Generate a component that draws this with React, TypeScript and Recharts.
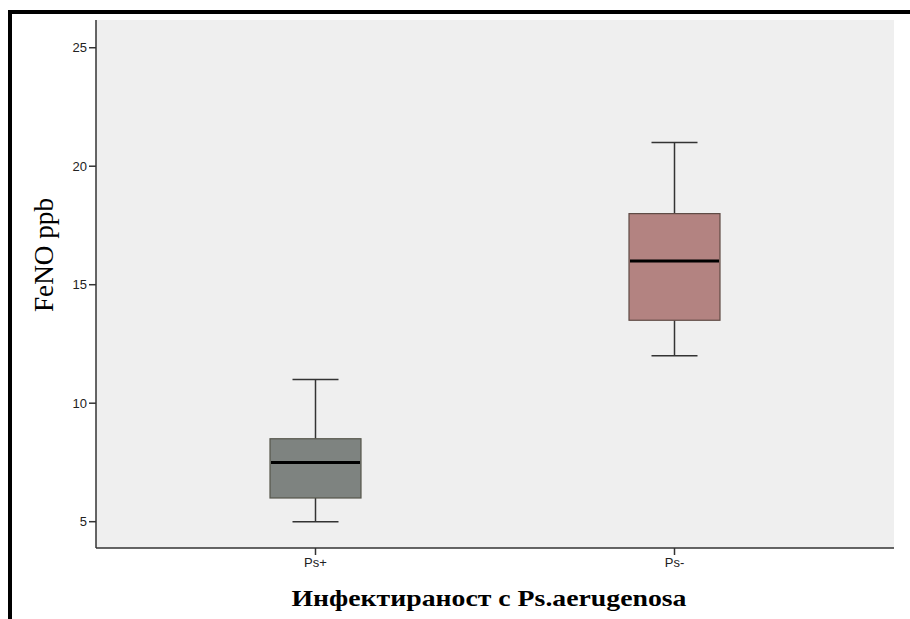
import React from "react";
import { ComposedChart, Bar, XAxis, YAxis, CartesianGrid } from "recharts";

// group values (FeNO, ppb)
const categories = ["Ps+", "Ps-"];
const minValues = [5, 12];
const q1Values = [6, 13.5];
const medianValues = [7.5, 16];
const q3Values = [8.5, 18];
const maxValues = [11, 21];
const yTicks = [5, 10, 15, 20, 25];

const BOX_FILLS = ["#7e8380", "#b38381"];
const BOX_STROKES = ["#55554a", "#5e4a44"];

const data = categories.map((name, i) => ({
  name,
  box: [q1Values[i], q3Values[i]],
  min: minValues[i],
  median: medianValues[i],
  max: maxValues[i],
  idx: i,
}));

const BoxShape = (props: any) => {
  const { x, y, width, height, payload } = props;
  const [lo, hi] = payload.box;
  const ppu = height / (hi - lo);
  const yOf = (v: number) => y + (hi - v) * ppu;
  const cx = x + width / 2;
  const cap = 23;
  const i = payload.idx;
  return (
    <g>
      <line x1={cx} x2={cx} y1={yOf(payload.max)} y2={y} stroke="#333" strokeWidth={1.5} />
      <line x1={cx} x2={cx} y1={y + height} y2={yOf(payload.min)} stroke="#333" strokeWidth={1.5} />
      <line x1={cx - cap} x2={cx + cap} y1={yOf(payload.max)} y2={yOf(payload.max)} stroke="#333" strokeWidth={1.5} />
      <line x1={cx - cap} x2={cx + cap} y1={yOf(payload.min)} y2={yOf(payload.min)} stroke="#333" strokeWidth={1.5} />
      <rect x={x} y={y} width={width} height={height} fill={BOX_FILLS[i]} stroke={BOX_STROKES[i]} strokeWidth={1.2} />
      <line x1={x + 1} x2={x + width - 1} y1={yOf(payload.median)} y2={yOf(payload.median)} stroke="#000" strokeWidth={3} />
    </g>
  );
};

const tickStyle = { fontSize: 13, fill: "#222", fontFamily: "Arial, 'Liberation Sans', sans-serif" };

export default function App() {
  return (
    <div style={{ position: "absolute", left: 0, top: 0, width: 910, height: 619, background: "#fff" }}>
      <div
        style={{
          position: "absolute",
          left: 8,
          top: 10,
          right: 0,
          bottom: 0,
          borderTop: "4px solid #000",
          borderLeft: "4px solid #000",
        }}
      />
      <ComposedChart
        width={910}
        height={619}
        data={data}
        margin={{ top: 20, right: 16, bottom: 0, left: 0 }}
        style={{ position: "absolute", left: 0, top: 0 }}
      >
        <CartesianGrid fill="#efefef" horizontal={false} vertical={false} />
        <XAxis
          dataKey="name"
          height={71}
          padding={{ left: 40, right: 40 }}
          tickSize={7}
          tickMargin={3}
          axisLine={{ stroke: "#333", strokeWidth: 1.5 }}
          tickLine={{ stroke: "#333", strokeWidth: 1.5 }}
          tick={tickStyle}
          label={{
            content: () => (
              <text
                x={489}
                y={606}
                textAnchor="middle"
                textLength={395}
                lengthAdjust="spacingAndGlyphs"
                style={{ fontSize: 23, fontWeight: "bold", fontFamily: "'Times New Roman', 'Liberation Serif', serif", fill: "#000" }}
              >
                Инфектираност с Ps.aerugenosa
              </text>
            ),
          }}
        />
        <XAxis
          xAxisId="top"
          dataKey="name"
          orientation="top"
          height={0}
          tick={false}
          tickLine={false}
          axisLine={{ stroke: "#777", strokeWidth: 2 }}
        />
        <YAxis
          type="number"
          domain={[3.89, 26.17]}
          ticks={yTicks}
          allowDataOverflow
          width={96}
          tickSize={7}
          tickMargin={2}
          axisLine={{ stroke: "#333", strokeWidth: 1.5 }}
          tickLine={{ stroke: "#333", strokeWidth: 1.5 }}
          tick={tickStyle}
          label={{
            content: () => (
              <text
                x={53}
                y={255}
                transform="rotate(-90 53 255)"
                textAnchor="middle"
                textLength={114}
                lengthAdjust="spacingAndGlyphs"
                style={{ fontSize: 28, fontFamily: "'Times New Roman', 'Liberation Serif', serif", fill: "#000" }}
              >
                FeNO ppb
              </text>
            ),
          }}
        />
        <YAxis
          yAxisId="right"
          orientation="right"
          width={0}
          tick={false}
          tickLine={false}
          axisLine={{ stroke: "#444", strokeWidth: 2 }}
        />
        <Bar dataKey="box" barSize={91} shape={BoxShape} isAnimationActive={false} />
      </ComposedChart>
    </div>
  );
}
